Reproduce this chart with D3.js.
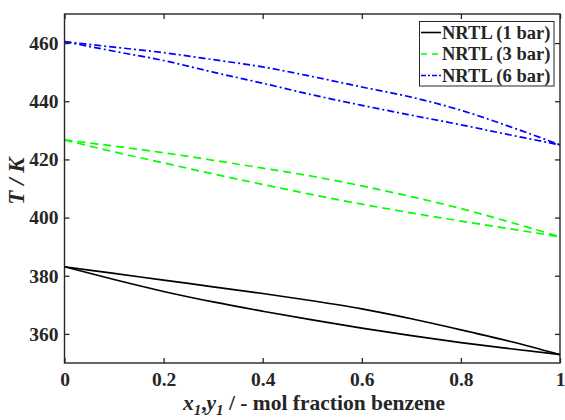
<!DOCTYPE html>
<html>
<head>
<meta charset="utf-8">
<script src="https://cdn.jsdelivr.net/npm/d3@7"></script>
<style>
  html, body { margin: 0; padding: 0; background: #fff; }
  svg { display: block; }
  text { font-family: "Liberation Serif", "Times New Roman", serif; font-weight: bold; fill: #262626; }
</style>
</head>
<body>
<svg id="chart" width="565" height="420"></svg>
<script>
// ---- data ----
const xFrac = [0, 0.1, 0.2, 0.3, 0.4, 0.5, 0.6, 0.7, 0.8, 0.9, 1];
const bubble1 = [383.1, 378.7, 374.6, 371.0, 367.8, 364.8, 362.0, 359.4, 357.0, 354.9, 352.9];
const dew1    = [383.1, 380.8, 378.5, 376.2, 373.9, 371.4, 368.6, 365.2, 361.4, 357.4, 352.9];
const bubble3 = [426.7, 422.6, 418.8, 415.0, 411.4, 407.9, 404.6, 401.6, 398.8, 396.1, 393.4];
const dew3    = [426.7, 424.6, 422.3, 419.7, 417.0, 414.2, 410.9, 407.2, 403.1, 398.4, 393.4];
const bubble6 = [460.5, 457.2, 454.0, 450.0, 446.2, 442.2, 438.6, 435.2, 431.9, 428.4, 425.0];
const dew6    = [460.5, 458.6, 456.7, 454.3, 451.8, 448.5, 444.9, 441.4, 436.9, 431.2, 425.0];
const seriesNames = ["NRTL (1 bar)", "NRTL (3 bar)", "NRTL (6 bar)"];
const xTicks = [0, 0.2, 0.4, 0.6, 0.8, 1];
const yTicks = [360, 380, 400, 420, 440, 460];

const series = [
  { name: seriesNames[0], color: "#000000", dash: null,        curves: [bubble1, dew1] },
  { name: seriesNames[1], color: "#00ff00", dash: "8,5",       curves: [bubble3, dew3] },
  { name: seriesNames[2], color: "#0000ff", dash: "7,3,2,3",   curves: [bubble6, dew6] }
];

// ---- layout ----
const pL = 64.5, pR = 560, pT = 14, pB = 363;
const svg = d3.select("#chart");
const x = d3.scaleLinear().domain([0, 1]).range([pL, pR]);
const y = d3.scaleLinear().domain([350, 470]).range([pB, pT]);
const axisColor = "#262626";

// lines
const line = d3.line().x((d, i) => x(xFrac[i])).y(d => y(d)).curve(d3.curveMonotoneX);
const plot = svg.append("g");
series.forEach(s => {
  s.curves.forEach(c => {
    plot.append("path")
      .attr("d", line(c))
      .attr("fill", "none")
      .attr("stroke", s.color)
      .attr("stroke-width", 1.7)
      .attr("stroke-dasharray", s.dash);
  });
});

// axes
const fmt = d => (d === 0 ? "0" : d === 1 ? "1" : d3.format(".1f")(d));
const gx = svg.append("g").attr("transform", `translate(0,${pB})`)
  .call(d3.axisBottom(x).tickValues(xTicks).tickFormat(fmt).tickSizeInner(-5).tickSizeOuter(0).tickPadding(9.2));
const gy = svg.append("g").attr("transform", `translate(${pL},0)`)
  .call(d3.axisLeft(y).tickValues(yTicks).tickSizeInner(-5).tickSizeOuter(0).tickPadding(6));
const gt = svg.append("g").attr("transform", `translate(0,${pT})`)
  .call(d3.axisTop(x).tickValues(xTicks).tickFormat("").tickSizeInner(-5).tickSizeOuter(0));
const gr = svg.append("g").attr("transform", `translate(${pR},0)`)
  .call(d3.axisRight(y).tickValues(yTicks).tickFormat("").tickSizeInner(-5).tickSizeOuter(0));
[gx, gy, gt, gr].forEach(g => {
  g.selectAll(".domain").remove();
  g.selectAll("line").attr("stroke", axisColor).attr("stroke-width", 1.3);
  g.selectAll("text").attr("fill", axisColor).style("font-size", "19.5px")
    .style("font-family", "'Liberation Serif','Times New Roman',serif").style("font-weight", "bold");
});
svg.append("rect").attr("x", pL).attr("y", pT).attr("width", pR - pL).attr("height", pB - pT)
  .attr("fill", "none").attr("stroke", axisColor).attr("stroke-width", 1.4);

// axis labels
svg.append("text")
  .attr("transform", `translate(24,181) rotate(-90)`)
  .attr("text-anchor", "middle")
  .style("font-size", "23px").style("font-style", "italic")
  .text("T / K");

const xl = svg.append("text").attr("x", 314).attr("y", 409.5).attr("text-anchor", "middle").style("font-size", "21.5px");
xl.append("tspan").style("font-style", "italic").text("x");
xl.append("tspan").style("font-style", "italic").style("font-size", "15px").attr("dy", 5).text("1");
xl.append("tspan").attr("dy", -5).text(",");
xl.append("tspan").style("font-style", "italic").text("y");
xl.append("tspan").style("font-style", "italic").style("font-size", "15px").attr("dy", 5).text("1");
xl.append("tspan").attr("dy", -5).text(" / - mol fraction benzene");

// legend
const lg = svg.append("g");
lg.append("rect").attr("x", 419.5).attr("y", 21.5).attr("width", 134.5).attr("height", 64.5)
  .attr("fill", "#fff").attr("stroke", axisColor).attr("stroke-width", 1);
series.forEach((s, i) => {
  const yy = 32.5 + i * 21.5;
  lg.append("line").attr("x1", 421).attr("x2", 441).attr("y1", yy).attr("y2", yy)
    .attr("stroke", s.color).attr("stroke-width", 1.6).attr("stroke-dasharray", s.dash ? (i === 1 ? "6,5" : "5,2,2,2") : null);
  lg.append("text").attr("x", 442).attr("y", yy + 6).style("font-size", "18.5px").text(s.name);
});
</script>
</body>
</html>
